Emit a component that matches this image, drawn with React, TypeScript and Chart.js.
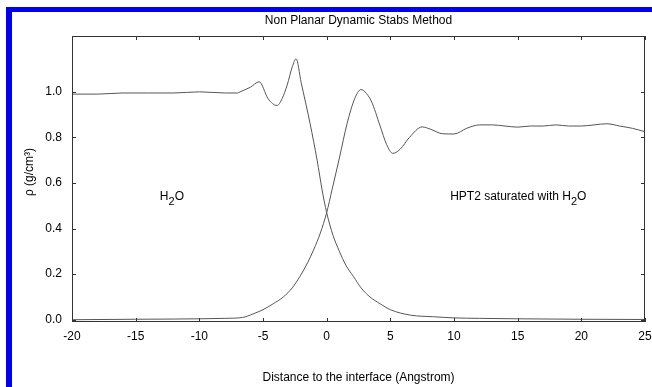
import React, { useEffect, useRef } from "react";
import { Chart, registerables } from "chart.js";

Chart.register(...registerables);

const TITLE = "Non Planar Dynamic Stabs Method";
const X_TITLE = "Distance to the interface (Angstrom)";
const Y_TITLE = "ρ (g/cm³)";

const xTicks = [-20, -15, -10, -5, 0, 5, 10, 15, 20, 25];
const yTicks = [0.0, 0.2, 0.4, 0.6, 0.8, 1.0];

// water density profile
const waterX = [-20, -18, -16, -14, -12, -10, -8, -7, -6.8, -6.0, -5.3, -4.6, -3.9, -3.5, -3.1, -2.7, -2.4, -2.0, -1.3, -0.75, -0.36, 0, 0.5, 1.0, 1.5, 2.1, 2.7, 3.4, 4.2, 5.0, 6.6, 8.4, 10, 12, 15, 20, 25];
const waterRho = [0.99, 0.99, 0.995, 0.995, 0.995, 1.0, 0.995, 0.995, 1.0, 1.02, 1.044, 0.97, 0.94, 0.97, 1.03, 1.11, 1.145, 1.04, 0.86, 0.70, 0.57, 0.47, 0.37, 0.30, 0.24, 0.19, 0.14, 0.10, 0.07, 0.044, 0.02, 0.013, 0.008, 0.006, 0.004, 0.002, 0.001];

// HPT2 density profile
const hptX = [-20, -15, -12, -10, -8, -6.6, -5.8, -5.0, -4.2, -3.4, -2.7, -2.1, -1.5, -1.0, -0.5, 0, 0.42, 1.0, 1.6, 2.2, 2.7, 3.0, 3.5, 4.2, 4.7, 5.2, 5.8, 6.5, 7.5, 8.2, 9.1, 10, 11, 12, 13, 14, 15, 16, 17, 18, 19, 20, 21, 22, 23, 24, 25];
const hptRho = [0.0, 0.002, 0.003, 0.004, 0.006, 0.01, 0.025, 0.044, 0.07, 0.10, 0.14, 0.19, 0.25, 0.31, 0.38, 0.47, 0.57, 0.71, 0.86, 0.97, 1.01, 1.0, 0.96, 0.85, 0.77, 0.73, 0.75, 0.80, 0.846, 0.835, 0.816, 0.815, 0.84, 0.855, 0.855, 0.85, 0.845, 0.85, 0.85, 0.855, 0.85, 0.85, 0.855, 0.86, 0.85, 0.84, 0.825];

const FONT = '"Liberation Sans", Arial, sans-serif';

const decorPlugin = {
  id: "decor",
  beforeDraw(chart: any) {
    const { ctx } = chart;
    ctx.save();
    ctx.fillStyle = "#0000f0";
    ctx.fillRect(6, 7, 700, 5);
    ctx.fillRect(6, 7, 6, 400);
    ctx.restore();
  },
  afterDraw(chart: any) {
    const { ctx, chartArea, scales } = chart;
    const { left, right, top, bottom } = chartArea;
    const xs = scales.x;
    const ys = scales.y;
    ctx.save();
    ctx.strokeStyle = "#333";
    ctx.lineWidth = 1;
    ctx.strokeRect(Math.round(left) + 0.5, Math.round(top) + 0.5, Math.round(right - left) - 1, Math.round(bottom - top) - 1);
    ctx.beginPath();
    xTicks.forEach((v) => {
      const px = Math.round(xs.getPixelForValue(v)) + 0.5;
      ctx.moveTo(px, bottom);
      ctx.lineTo(px, bottom - 4);
      ctx.moveTo(px, top);
      ctx.lineTo(px, top + 4);
    });
    yTicks.forEach((v) => {
      const py = Math.round(ys.getPixelForValue(v)) + 0.5;
      ctx.moveTo(left, py);
      ctx.lineTo(left + 4, py);
      ctx.moveTo(right, py);
      ctx.lineTo(right - 4, py);
    });
    ctx.stroke();

    ctx.fillStyle = "#000";
    ctx.font = `12px ${FONT}`;
    ctx.textAlign = "center";
    ctx.textBaseline = "middle";
    ctx.fillText(TITLE, (left + right) / 2, 21);

    ctx.save();
    ctx.translate(30, 172);
    ctx.rotate(-Math.PI / 2);
    ctx.fillText(Y_TITLE, 0, 0);
    ctx.restore();

    const drawChem = (pre: string, x0: number, y0: number) => {
      ctx.textAlign = "left";
      ctx.textBaseline = "middle";
      ctx.font = `12px ${FONT}`;
      let x = x0;
      ctx.fillText(pre + "H", x, y0);
      x += ctx.measureText(pre + "H").width;
      ctx.font = `11px ${FONT}`;
      ctx.fillText("2", x, y0 + 5);
      x += ctx.measureText("2").width;
      ctx.font = `12px ${FONT}`;
      ctx.fillText("O", x, y0);
    };
    drawChem("", xs.getPixelForValue(-13.1), ys.getPixelForValue(0.54));
    drawChem("HPT2 saturated with ", xs.getPixelForValue(9.7), ys.getPixelForValue(0.54));
    ctx.restore();
  },
};

export default function App() {
  const ref = useRef<HTMLCanvasElement | null>(null);
  useEffect(() => {
    if (!ref.current) return;
    const lineStyle = {
      borderColor: "#555",
      borderWidth: 1,
      pointRadius: 0,
      fill: false,
      cubicInterpolationMode: "monotone" as const,
    };
    const chart = new Chart(ref.current, {
      type: "line",
      data: {
        datasets: [
          { label: "H2O", data: waterX.map((x, i) => ({ x, y: waterRho[i] })), ...lineStyle },
          { label: "HPT2", data: hptX.map((x, i) => ({ x, y: hptRho[i] })), ...lineStyle },
        ],
      },
      options: {
        responsive: false,
        animation: false,
        layout: { padding: { left: 0, right: 0, top: 36, bottom: 0 } },
        plugins: {
          legend: { display: false },
          tooltip: { enabled: false },
          title: { display: false },
        },
        scales: {
          x: {
            type: "linear",
            min: -20,
            max: 25,
            afterBuildTicks: (s: any) => {
              s.ticks = xTicks.map((v) => ({ value: v }));
            },
            ticks: {
              color: "#000",
              font: { family: FONT, size: 12 },
              padding: 7,
              maxRotation: 0,
              autoSkip: false,
              callback: (v: any) => String(v),
            },
            grid: { display: false, drawTicks: false },
            border: { display: false },
            title: {
              display: true,
              text: X_TITLE,
              color: "#000",
              font: { family: FONT, size: 12 },
              padding: { top: 0, bottom: 2 },
            },
            afterFit: (s: any) => {
              s.height = 65;
              s.paddingRight = 7;
              s.paddingLeft = 0;
            },
          },
          y: {
            type: "linear",
            min: -0.01,
            max: 1.245,
            afterBuildTicks: (s: any) => {
              s.ticks = yTicks.map((v) => ({ value: v }));
            },
            ticks: {
              color: "#000",
              font: { family: FONT, size: 12 },
              padding: 10,
              callback: (v: any) => Number(v).toFixed(1),
            },
            grid: { display: false, drawTicks: false },
            border: { display: false },
            afterFit: (s: any) => {
              s.width = 72;
              s.paddingTop = 0;
              s.paddingBottom = 0;
            },
          },
        },
      },
      plugins: [decorPlugin],
    });
    return () => chart.destroy();
  }, []);
  return (
    <div style={{ position: "absolute", left: 0, top: 0, width: 652, height: 387, background: "#fff", overflow: "hidden" }}>
      <canvas ref={ref} width={652} height={387} style={{ width: 652, height: 387, display: "block" }} />
    </div>
  );
}
